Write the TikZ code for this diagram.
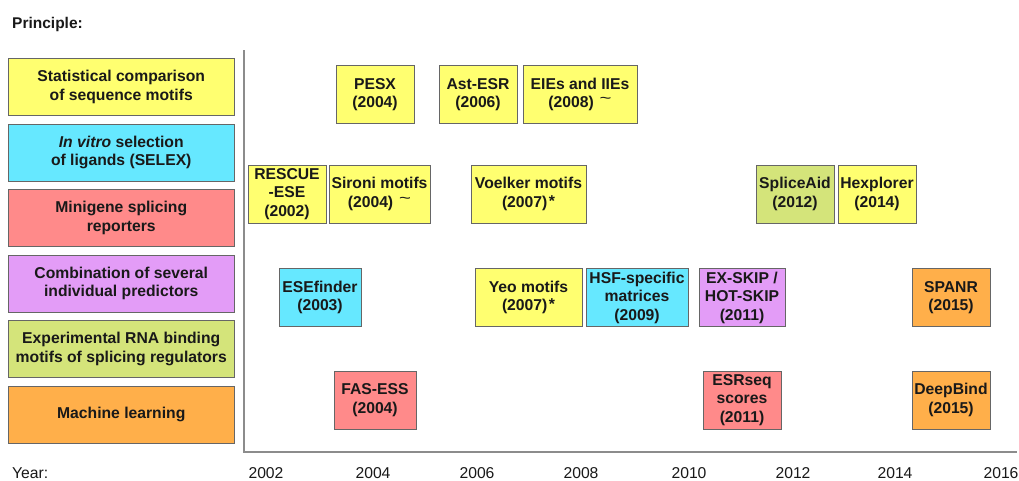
\documentclass[tikz,border=0pt]{standalone}
\usepackage{fontspec}
\setmainfont{Liberation Sans}
\definecolor{cyel}{HTML}{FFFF70}
\definecolor{ccya}{HTML}{66E8FF}
\definecolor{cred}{HTML}{FF8A8A}
\definecolor{cpur}{HTML}{E39CF7}
\definecolor{cgrn}{HTML}{D4E47A}
\definecolor{cora}{HTML}{FFAF4A}
\definecolor{cbrd}{HTML}{666666}
\definecolor{caxis}{HTML}{8C8C8C}
\newcommand{\mytld}{\hspace{6pt}\raisebox{4pt}{\mdseries\scalebox{1.3}[1]{\textasciitilde}}}
\newcommand{\myast}{\hspace{1.5pt}\raisebox{1pt}{*}}
\tikzset{
  box/.style={draw=cbrd, line width=0.9pt, align=center, inner sep=0pt,
    font=\fontsize{15.7}{18.5}\selectfont\bfseries, text=black!90},
  lbox/.style={box, minimum width=225.5pt, minimum height=57pt},
  tbox/.style={box, minimum height=57.5pt},
  yr/.style={font=\fontsize{15.7}{18.5}\selectfont, text=black!90, inner sep=0pt}
}
\begin{document}
\begin{tikzpicture}[x=1pt,y=-1pt]
\useasboundingbox[fill=white] (0,0) rectangle (1019,480);
\node[yr, font=\fontsize{15.5}{18.5}\selectfont\bfseries, anchor=west] (principle) at (12,24) {Principle:};
\node[yr, anchor=west] (yearlbl) at (12,473) {Year:};
% left category boxes
\node[lbox, fill=cyel] (c1) at (121.25,87) {Statistical comparison\\of sequence motifs};
\node[lbox, fill=ccya] (c2) at (121.25,152.5) {\textit{In vitro} selection\\of ligands (SELEX)};
\node[lbox, fill=cred] (c3) at (121.25,218) {Minigene splicing\\reporters};
\node[lbox, fill=cpur] (c4) at (121.25,283.5) {Combination of several\\individual predictors};
\node[lbox, fill=cgrn] (c5) at (121.25,349) {Experimental RNA binding\\motifs of splicing regulators};
\node[lbox, fill=cora] (c6) at (121.25,414.5) {Machine learning};
% axes
\coordinate (atop) at (244,50);
\coordinate (aorig) at (244,452);
\coordinate (aright) at (1017,452);
\draw[caxis, line width=1.4pt] (atop) -- (aorig) -- (aright);
% year labels
\node[yr] (y2002) at (266,473) {2002};
\node[yr] (y2004) at (373,473) {2004};
\node[yr] (y2006) at (477,473) {2006};
\node[yr] (y2008) at (581,473) {2008};
\node[yr] (y2010) at (689,473) {2010};
\node[yr] (y2012) at (793,473) {2012};
\node[yr] (y2014) at (895,473) {2014};
\node[yr] (y2016) at (1001,473) {2016};
% timeline boxes
\node[tbox, fill=cyel, minimum width=78pt] (pesx) at (375,94.5) {PESX\\(2004)};
\node[tbox, fill=cyel, minimum width=78pt] (astesr) at (478,94.5) {Ast-ESR\\(2006)};
\node[tbox, fill=cyel, minimum width=114pt] (eies) at (580,94.5) {EIEs and IIEs\\(2008)\mytld};
\node[tbox, fill=cyel, minimum width=78pt, minimum height=58pt] (rescue) at (287,194) {RESCUE\\-ESE\\(2002)};
\node[tbox, fill=cyel, minimum width=101pt, minimum height=58pt] (sironi) at (379.5,194) {Sironi motifs\\(2004)\mytld};
\node[tbox, fill=cyel, minimum width=115pt, minimum height=58pt] (voelker) at (528.5,194) {Voelker motifs\\(2007)\myast};
\node[tbox, fill=cgrn, minimum width=78pt, minimum height=58pt] (spliceaid) at (795,194) {SpliceAid\\(2012)};
\node[tbox, fill=cyel, minimum width=78pt, minimum height=58pt] (hexplorer) at (877,194) {Hexplorer\\(2014)};
\node[tbox, fill=ccya, minimum width=82pt] (esefinder) at (320,297.5) {ESEfinder\\(2003)};
\node[tbox, fill=cyel, minimum width=107pt] (yeo) at (528.5,297.5) {Yeo motifs\\(2007)\myast};
\node[tbox, fill=ccya, minimum width=102pt] (hsf) at (637,297.5) {HSF-specific\\matrices\\(2009)};
\node[tbox, fill=cpur, minimum width=86pt] (exskip) at (742,297.5) {EX-SKIP /\\HOT-SKIP\\(2011)};
\node[tbox, fill=cora, minimum width=78pt] (spanr) at (951,297.5) {SPANR\\(2015)};
\node[tbox, fill=cred, minimum width=82pt, minimum height=58pt] (fasess) at (375,400) {FAS-ESS\\(2004)};
\node[tbox, fill=cred, minimum width=78pt, minimum height=58pt] (esrseq) at (742,400) {ESRseq\\scores\\(2011)};
\node[tbox, fill=cora, minimum width=78pt, minimum height=58pt] (deepbind) at (951,400) {DeepBind\\(2015)};
\end{tikzpicture}
\end{document}
